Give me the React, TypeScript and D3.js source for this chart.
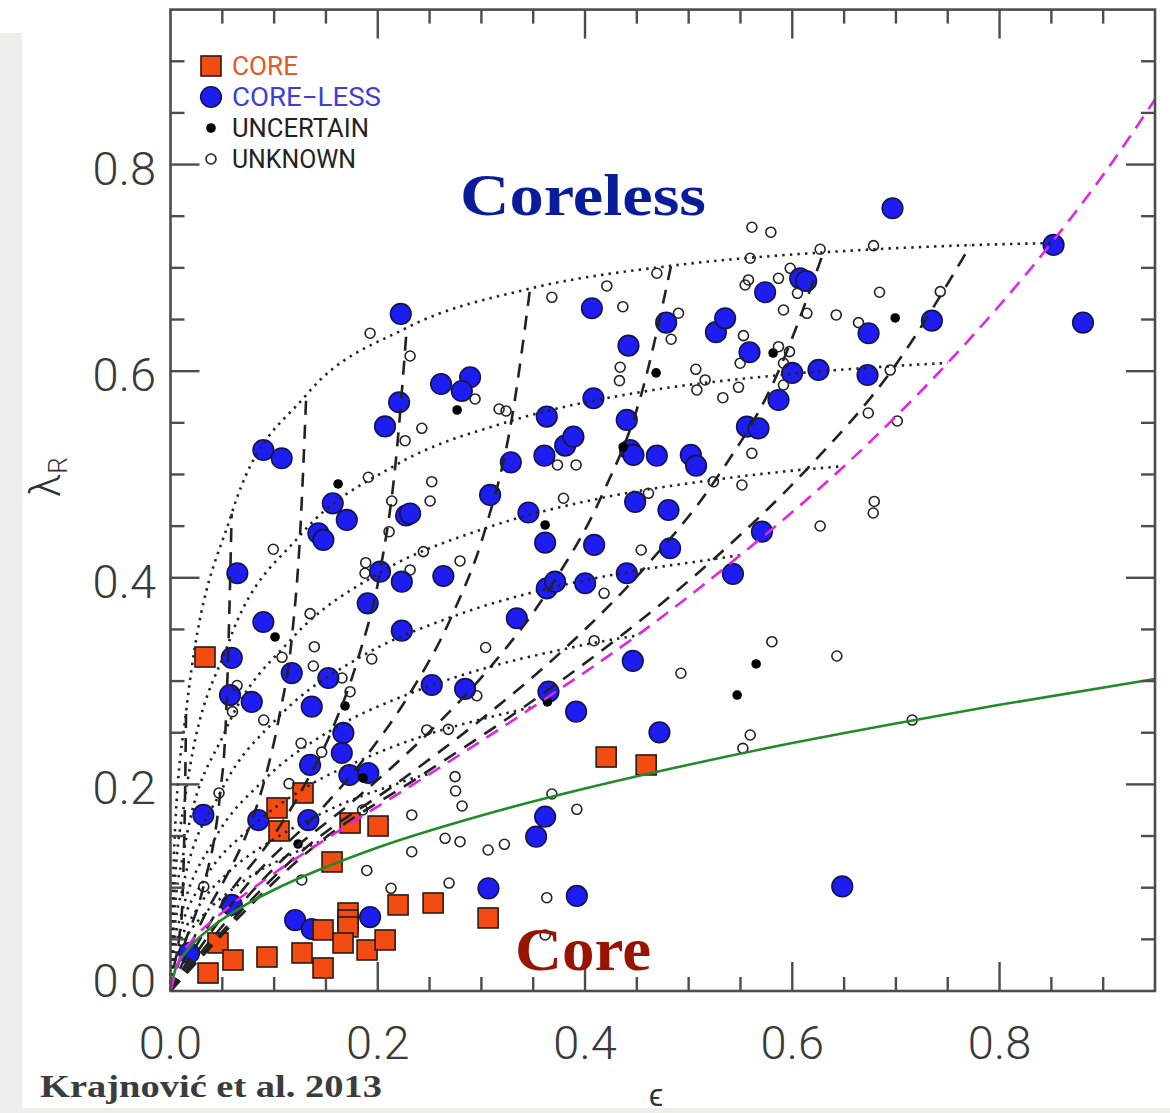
import React from 'react'
import * as d3 from 'd3'

// ---- data (epsilon, lambda_R) ----
const CORE: [number, number][] = [
  [0.0333, 0.3233], [0.1028, 0.1772], [0.1047, 0.1549], [0.1279, 0.1917], [0.1733, 0.1626],
  [0.2003, 0.1597], [0.1559, 0.1249], [0.1713, 0.0755], [0.1713, 0.0687], [0.1713, 0.062],
  [0.1472, 0.0591], [0.1665, 0.0465], [0.1897, 0.0397], [0.2071, 0.0494], [0.0458, 0.0465],
  [0.0603, 0.03], [0.0362, 0.0174], [0.0931, 0.0329], [0.1269, 0.0368], [0.1472, 0.0223],
  [0.2196, 0.0833], [0.2534, 0.0852], [0.3065, 0.0707], [0.4204, 0.2265], [0.459, 0.2188],
]

const CORELESS: [number, number][] = [
  [0.0179, 0.0368], [0.0591, 0.0833], [0.0317, 0.1704], [0.0847, 0.1655], [0.133, 0.1655],
  [0.1202, 0.0687], [0.1363, 0.06], [0.1926, 0.0716], [0.1668, 0.2498], [0.1653, 0.2304],
  [0.1347, 0.2188], [0.1726, 0.2091], [0.1909, 0.211], [0.0574, 0.2865], [0.0784, 0.2798],
  [0.1363, 0.2752], [0.0591, 0.3224], [0.0896, 0.3572], [0.117, 0.3078], [0.1523, 0.303],
  [0.1903, 0.3753], [0.2232, 0.3488], [0.2022, 0.4059], [0.2232, 0.3962], [0.2633, 0.4017],
  [0.0645, 0.4044], [0.1566, 0.4721], [0.1701, 0.456], [0.1427, 0.4431], [0.1475, 0.4366],
  [0.0896, 0.5237], [0.1073, 0.5157], [0.2273, 0.4603], [0.2312, 0.4622], [0.207, 0.5465],
  [0.2206, 0.5699], [0.2222, 0.6554], [0.2611, 0.5876], [0.2891, 0.5941], [0.2811, 0.5808],
  [0.3084, 0.4802], [0.3284, 0.5118], [0.3454, 0.4632], [0.2521, 0.2962], [0.2843, 0.2924],
  [0.3615, 0.434], [0.4088, 0.4318], [0.3631, 0.3898], [0.3711, 0.3962], [0.4001, 0.3947],
  [0.4403, 0.4044], [0.3342, 0.3608], [0.3647, 0.2897], [0.3914, 0.2704], [0.4461, 0.3195],
  [0.4718, 0.2504], [0.3615, 0.1687], [0.3528, 0.1494], [0.3068, 0.0994], [0.3921, 0.092],
  [0.6482, 0.1012], [0.4484, 0.4734], [0.4805, 0.4656], [0.4821, 0.4286], [0.5707, 0.4446],
  [0.5427, 0.4037], [0.3608, 0.5182], [0.3808, 0.5279], [0.3888, 0.5366], [0.3631, 0.556],
  [0.4081, 0.5738], [0.4066, 0.6609], [0.4403, 0.5528], [0.4419, 0.6247], [0.4435, 0.5237],
  [0.4467, 0.5189], [0.4693, 0.5182], [0.4783, 0.647], [0.5021, 0.5189], [0.5072, 0.5085],
  [0.5263, 0.6377], [0.5352, 0.6512], [0.5562, 0.5463], [0.5674, 0.5447], [0.5587, 0.6183],
  [0.5738, 0.6764], [0.5867, 0.5721], [0.5999, 0.5983], [0.6253, 0.6012], [0.6076, 0.6899],
  [0.6134, 0.6873], [0.6726, 0.5963], [0.6736, 0.6367], [0.6967, 0.7577], [0.7347, 0.6489],
  [0.8521, 0.7222], [0.8805, 0.647],
]

const UNCERTAIN: [number, number][] = [
  [0.1617, 0.4908], [0.2766, 0.5624], [0.4686, 0.5983], [0.5815, 0.6176], [0.6993, 0.6515],
  [0.1009, 0.3427], [0.1684, 0.2759], [0.1231, 0.1423], [0.1858, 0.2062], [0.3615, 0.4511],
  [0.3637, 0.2798], [0.5651, 0.3166], [0.5468, 0.2865], [0.4368, 0.5266],
]

const UNKNOWN: [number, number][] = [
  [0.1926, 0.6367], [0.2312, 0.6147], [0.2939, 0.5731], [0.2425, 0.5447], [0.2264, 0.5327],
  [0.1909, 0.4973], [0.2521, 0.493], [0.3171, 0.5634], [0.3238, 0.5615], [0.2505, 0.4743],
  [0.2135, 0.4743], [0.2109, 0.4446], [0.0992, 0.4276], [0.1347, 0.3653], [0.1884, 0.4146],
  [0.1877, 0.4044], [0.1388, 0.3333], [0.1378, 0.3146], [0.1076, 0.323], [0.1942, 0.3214],
  [0.1733, 0.2897], [0.1655, 0.303], [0.0642, 0.2957], [0.244, 0.4253], [0.2794, 0.4163],
  [0.2312, 0.4076], [0.0598, 0.2704], [0.09, 0.2623], [0.126, 0.2398], [0.1459, 0.2312],
  [0.3041, 0.3325], [0.2473, 0.2527], [0.2681, 0.2533], [0.2956, 0.2858], [0.1144, 0.2007],
  [0.0468, 0.1917], [0.1853, 0.1752], [0.2746, 0.2075], [0.2751, 0.1936], [0.2814, 0.1791],
  [0.2328, 0.1704], [0.265, 0.1478], [0.2794, 0.1445], [0.2328, 0.1348], [0.1894, 0.1167],
  [0.1266, 0.1075], [0.2128, 0.0994], [0.2688, 0.1045], [0.3065, 0.1365], [0.3222, 0.142],
  [0.0321, 0.101], [0.4542, 0.4269], [0.4184, 0.385], [0.4088, 0.3391], [0.6269, 0.4501],
  [0.5803, 0.3381], [0.643, 0.3243], [0.4925, 0.3076], [0.5594, 0.2478], [0.5523, 0.2349],
  [0.368, 0.1907], [0.3921, 0.1759], [0.3631, 0.0903], [0.3615, 0.0542], [0.561, 0.7393],
  [0.5793, 0.7345], [0.5594, 0.7093], [0.598, 0.6996], [0.5867, 0.6899], [0.4693, 0.6948],
  [0.421, 0.6825], [0.368, 0.6715], [0.4365, 0.6624], [0.4902, 0.6561], [0.4831, 0.6309],
  [0.5529, 0.6344], [0.5577, 0.6883], [0.5545, 0.6834], [0.5915, 0.6592], [0.5497, 0.6077],
  [0.5867, 0.6237], [0.5973, 0.6189], [0.5915, 0.6077], [0.4339, 0.6038], [0.4332, 0.5908],
  [0.5069, 0.6018], [0.5159, 0.5915], [0.5079, 0.5818], [0.533, 0.5743], [0.5481, 0.5844],
  [0.5915, 0.5866], [0.561, 0.5205], [0.3734, 0.5092], [0.3914, 0.5092], [0.5239, 0.493],
  [0.5514, 0.4898], [0.3792, 0.477], [0.4612, 0.4818], [0.6269, 0.718], [0.6784, 0.7215],
  [0.605, 0.6754], [0.6141, 0.656], [0.6424, 0.6544], [0.6842, 0.6764], [0.7428, 0.677],
  [0.6639, 0.647], [0.6945, 0.6011], [0.6733, 0.5595], [0.7013, 0.5518], [0.6791, 0.4739],
  [0.6781, 0.4627], [0.7157, 0.2623],
]

// green solid curve
const GREEN_EPS = [0, 0.005, 0.01, 0.02, 0.04, 0.07, 0.1, 0.15, 0.2, 0.3, 0.4, 0.5, 0.6, 0.7, 0.8, 0.95]
const GREEN_LAM = [0, 0.022, 0.031, 0.044, 0.062, 0.082, 0.098, 0.12, 0.139, 0.17, 0.196, 0.219, 0.24, 0.259, 0.277, 0.302]

// magenta dashed edge-on curve
const EDGE_EPS = [0, 0.01, 0.02, 0.05, 0.1, 0.15, 0.25, 0.35, 0.45, 0.55, 0.65, 0.75, 0.85, 0.9, 0.95]
const EDGE_LAM = [0, 0.034, 0.048, 0.076, 0.114, 0.147, 0.21, 0.275, 0.344, 0.422, 0.508, 0.608, 0.724, 0.79, 0.863]

// grid of inclined models: rows = intrinsic ellipticity, columns = inclination
const INCLINATIONS = [90, 80, 70, 60, 50, 40, 30, 20, 10, 5, 0]
const EPS_INTR = [0.85, 0.75, 0.65, 0.55, 0.45, 0.35, 0.25, 0.15]
const MODEL_EPS = [
  [0.85, 0.772, 0.63, 0.483, 0.347, 0.228, 0.131, 0.059, 0.015, 0.0037, 0],
  [0.75, 0.699, 0.585, 0.455, 0.329, 0.217, 0.125, 0.056, 0.014, 0.0036, 0],
  [0.65, 0.614, 0.526, 0.415, 0.304, 0.202, 0.117, 0.053, 0.013, 0.0033, 0],
  [0.55, 0.524, 0.456, 0.366, 0.271, 0.181, 0.105, 0.048, 0.012, 0.003, 0],
  [0.45, 0.431, 0.38, 0.309, 0.231, 0.156, 0.091, 0.042, 0.011, 0.0027, 0],
  [0.35, 0.337, 0.3, 0.247, 0.187, 0.127, 0.075, 0.034, 0.009, 0.0022, 0],
  [0.25, 0.241, 0.217, 0.18, 0.138, 0.095, 0.056, 0.026, 0.007, 0.0017, 0],
  [0.15, 0.145, 0.131, 0.11, 0.085, 0.059, 0.035, 0.016, 0.004, 0.0011, 0],
]
const MODEL_LAM = [
  [0.724, 0.722, 0.715, 0.702, 0.68, 0.642, 0.577, 0.462, 0.27, 0.142, 0],
  [0.608, 0.605, 0.596, 0.58, 0.552, 0.509, 0.441, 0.337, 0.186, 0.096, 0],
  [0.508, 0.505, 0.495, 0.477, 0.448, 0.405, 0.341, 0.252, 0.136, 0.069, 0],
  [0.422, 0.418, 0.408, 0.39, 0.362, 0.322, 0.266, 0.192, 0.101, 0.052, 0],
  [0.344, 0.341, 0.331, 0.314, 0.288, 0.253, 0.205, 0.146, 0.076, 0.039, 0],
  [0.275, 0.272, 0.263, 0.248, 0.225, 0.195, 0.156, 0.11, 0.057, 0.029, 0],
  [0.21, 0.208, 0.2, 0.187, 0.168, 0.144, 0.115, 0.08, 0.041, 0.021, 0],
  [0.147, 0.145, 0.139, 0.129, 0.116, 0.098, 0.077, 0.053, 0.027, 0.014, 0],
]
const DASHED_INCL = [80, 70, 60, 50, 40, 30, 20, 10]

const X_TICKS = [0, 0.2, 0.4, 0.6, 0.8]
const Y_TICKS = [0, 0.2, 0.4, 0.6, 0.8]

const LEGEND = [
  { label: 'CORE', kind: 'core', color: '#e5582a', len: 66 },
  { label: 'CORE\u2212LESS', kind: 'coreless', color: '#3d3ddb', len: 149 },
  { label: 'UNCERTAIN', kind: 'uncertain', color: '#222', len: 137 },
  { label: 'UNKNOWN', kind: 'unknown', color: '#222', len: 124 },
]

const BLUE = '#1d1df2'
const ORANGE = '#f24c12'
const AXIS = '#4d4d4d'
const TICK_FONT = "Roboto, 'Liberation Sans', Arial, sans-serif"

export default function App() {
  const W = 1170
  const H = 1113
  const x = d3.scaleLinear().domain([0, 0.95]).range([170.5, 1155])
  const y = d3.scaleLinear().domain([0, 0.95]).range([991, 9.6])

  const line = d3
    .line<[number, number]>()
    .x((d) => x(d[0]))
    .y((d) => y(d[1]))
    .curve(d3.curveMonotoneX)

  const zip = (a: number[], b: number[]) => a.map((v, i) => [v, b[i]] as [number, number])
  const asc = (pts: [number, number][]) => [...pts].sort((p, q) => p[0] - q[0])

  const dotted = EPS_INTR.map((_, r) => asc(zip(MODEL_EPS[r], MODEL_LAM[r])))
  const dashed = DASHED_INCL.map((inc) => {
    const c = INCLINATIONS.indexOf(inc)
    const pts: [number, number][] = EPS_INTR.map((_, r) => [MODEL_EPS[r][c], MODEL_LAM[r][c]])
    pts.push([0, 0])
    return asc(pts)
  })

  const minor = d3.range(0, 0.951, 0.05)
  const isMajor = (v: number) => Math.abs(v * 5 - Math.round(v * 5)) < 1e-6
  const x0 = x.range()[0]
  const x1 = x.range()[1]
  const y0 = y.range()[0]
  const y1 = y.range()[1]

  const sym = (kind: string, cx: number, cy: number, key?: string | number) => {
    if (kind === 'core')
      return <rect key={key} x={cx - 10} y={cy - 10} width={20} height={20} fill={ORANGE} stroke="#2a1a10" strokeWidth={1.6} />
    if (kind === 'coreless')
      return <circle key={key} cx={cx} cy={cy} r={10.3} fill={BLUE} stroke="#14144a" strokeWidth={1.6} />
    if (kind === 'uncertain') return <circle key={key} cx={cx} cy={cy} r={4.8} fill="#000" />
    return <circle key={key} cx={cx} cy={cy} r={5} fill="none" stroke="#222" strokeWidth={1.6} />
  }

  return (
    <svg
      width={W}
      height={H}
      style={{ position: 'absolute', left: 0, top: 0, background: '#fff' }}
      fontFamily={TICK_FONT}
    >
      {/* page background */}
      <rect x={0} y={33} width={22} height={H - 33} fill="#eeedea" />
      <rect x={0} y={1108} width={W} height={5} fill="#eeedea" />

      {/* markers */}
      <g>{CORELESS.map((d, i) => sym('coreless', x(d[0]), y(d[1]), 'b' + i))}</g>
      <g>{CORE.map((d, i) => sym('core', x(d[0]), y(d[1]), 'c' + i))}</g>
      <g>{UNCERTAIN.map((d, i) => sym('uncertain', x(d[0]), y(d[1]), 'u' + i))}</g>
      <g>{UNKNOWN.map((d, i) => sym('unknown', x(d[0]), y(d[1]), 'k' + i))}</g>

      {/* model curves */}
      <g fill="none">
        {dotted.map((pts, i) => (
          <path key={'d' + i} d={line(pts) || ''} stroke="#222" strokeWidth={2.6} strokeDasharray="2.4 5.2" />
        ))}
        {dashed.map((pts, i) => (
          <path key={'s' + i} d={line(pts) || ''} stroke="#222" strokeWidth={2.6} strokeDasharray="14 10" />
        ))}
        <path d={line(zip(GREEN_EPS, GREEN_LAM)) || ''} stroke="#23892a" strokeWidth={2.6} />
        <path d={line(zip(EDGE_EPS, EDGE_LAM)) || ''} stroke="#e026e0" strokeWidth={2.6} strokeDasharray="14 9" />
      </g>

      {/* frame and ticks */}
      <rect x={x0} y={y1} width={x1 - x0} height={y0 - y1} fill="none" stroke={AXIS} strokeWidth={2.6} />
      <g stroke={AXIS} strokeWidth={2.4}>
        {minor.map((v) => {
          const L = isMajor(v) ? 29 : 14
          const px = x(v)
          const py = y(v)
          return (
            <g key={'t' + v}>
              {v > 0 && v < 0.95 && <line x1={px} x2={px} y1={y0} y2={y0 - L} />}
              {v > 0 && v < 0.95 && <line x1={px} x2={px} y1={y1} y2={y1 + L} />}
              {v > 0 && v < 0.95 && <line x1={x0} x2={x0 + L} y1={py} y2={py} />}
              {v > 0 && v < 0.95 && <line x1={x1} x2={x1 - L} y1={py} y2={py} />}
            </g>
          )
        })}
      </g>

      {/* tick labels */}
      <g fill="#3a3a3a" fontSize={47} fontWeight={300}>
        {X_TICKS.map((t) => (
          <text key={'xl' + t} x={x(t)} y={1059} textAnchor="middle">
            {t.toFixed(1)}
          </text>
        ))}
        {Y_TICKS.map((t) => (
          <text key={'yl' + t} x={156} y={y(t) + (t === 0 ? 6 : 20)} textAnchor="end">
            {t.toFixed(1)}
          </text>
        ))}
      </g>

      {/* axis titles */}
      <text transform="translate(60,497) rotate(-90)" fill="#333" fontSize={42} fontWeight={300}>
        λ<tspan fontSize={26} dy={7}>R</tspan>
      </text>
      <text x={656} y={1106} textAnchor="middle" fill="#333" fontSize={32} fontWeight={300}>
        ϵ
      </text>

      {/* legend */}
      <g fontSize={26}>
        {LEGEND.map((d, i) => {
          const cy = 66 + i * 31
          return (
            <g key={d.label}>
              {sym(d.kind, 211, cy)}
              <text x={232} y={cy + 9} fill={d.color} textLength={d.len} lengthAdjust="spacingAndGlyphs">
                {d.label}
              </text>
            </g>
          )
        })}
      </g>

      {/* annotations */}
      <text
        x={460}
        y={215}
        fill="#0b1c9b"
        fontFamily="'Liberation Serif', 'DejaVu Serif', serif"
        fontWeight="bold"
        fontSize={60}
        textLength={246}
        lengthAdjust="spacingAndGlyphs"
      >
        Coreless
      </text>
      <text
        x={515}
        y={970}
        fill="#991400"
        fontFamily="'Liberation Serif', 'DejaVu Serif', serif"
        fontWeight="bold"
        fontSize={62}
        textLength={136}
        lengthAdjust="spacingAndGlyphs"
      >
        Core
      </text>
      <text
        x={40}
        y={1097}
        fill="#3c3c3c"
        fontFamily="'Liberation Serif', 'DejaVu Serif', serif"
        fontWeight="bold"
        fontSize={31}
        textLength={342}
        lengthAdjust="spacingAndGlyphs"
      >
        Krajnović et al. 2013
      </text>
    </svg>
  )
}
